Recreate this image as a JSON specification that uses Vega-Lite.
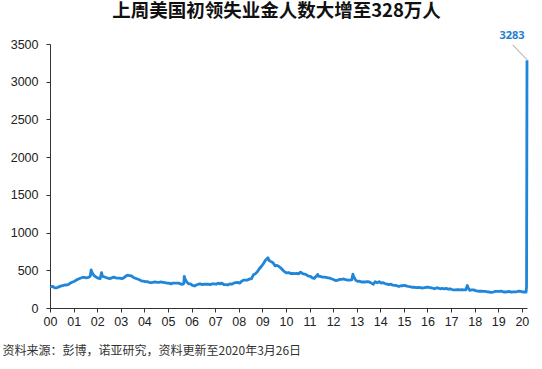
{
  "$schema": "https://vega.github.io/schema/vega-lite/v6.json",
  "width": 477,
  "height": 264,
  "autosize": {"type": "none"},
  "padding": {"left": 50, "top": 44, "right": 15, "bottom": 61},
  "background": "white",
  "config": {"view": {"stroke": null}},
  "title": {
    "text": "上周美国初领失业金人数大增至328万人",
    "font": "Noto Sans CJK SC",
    "fontSize": 18.5,
    "fontWeight": "bold",
    "color": "#111111",
    "anchor": "middle",
    "frame": "group",
    "dx": -12,
    "offset": 10
  },
  "datasets": {
    "claims": [
      {"d":"2000-01-08","v":290},{"d":"2000-01-22","v":282},{"d":"2000-02-15","v":285},{"d":"2000-03-15","v":268},{"d":"2000-04-15","v":268},{"d":"2000-05-15","v":280},{"d":"2000-06-15","v":290},{"d":"2000-07-15","v":298},{"d":"2000-08-15","v":305},{"d":"2000-09-15","v":305},{"d":"2000-10-15","v":312},{"d":"2000-11-15","v":332},{"d":"2000-12-15","v":345},
      {"d":"2001-01-15","v":355},{"d":"2001-02-15","v":372},{"d":"2001-03-15","v":385},{"d":"2001-04-15","v":395},{"d":"2001-05-15","v":405},{"d":"2001-06-15","v":405},{"d":"2001-07-15","v":400},{"d":"2001-08-15","v":405},{"d":"2001-09-15","v":420},{"d":"2001-09-29","v":505},{"d":"2001-10-13","v":470},{"d":"2001-10-27","v":450},{"d":"2001-11-15","v":430},{"d":"2001-12-15","v":410},
      {"d":"2002-01-15","v":395},{"d":"2002-02-15","v":388},{"d":"2002-03-09","v":470},{"d":"2002-03-23","v":420},{"d":"2002-04-15","v":415},{"d":"2002-05-15","v":405},{"d":"2002-06-15","v":395},{"d":"2002-07-15","v":390},{"d":"2002-08-15","v":400},{"d":"2002-09-15","v":410},{"d":"2002-10-15","v":400},{"d":"2002-11-15","v":395},{"d":"2002-12-15","v":395},
      {"d":"2003-01-15","v":390},{"d":"2003-02-15","v":400},{"d":"2003-03-15","v":420},{"d":"2003-04-15","v":435},{"d":"2003-05-15","v":430},{"d":"2003-06-15","v":425},{"d":"2003-07-15","v":405},{"d":"2003-08-15","v":395},{"d":"2003-09-15","v":385},{"d":"2003-10-15","v":375},{"d":"2003-11-15","v":360},{"d":"2003-12-15","v":355},
      {"d":"2004-01-15","v":350},{"d":"2004-02-15","v":350},{"d":"2004-03-15","v":340},{"d":"2004-04-15","v":335},{"d":"2004-05-15","v":340},{"d":"2004-06-15","v":345},{"d":"2004-07-15","v":340},{"d":"2004-08-15","v":340},{"d":"2004-09-15","v":345},{"d":"2004-10-15","v":340},{"d":"2004-11-15","v":335},{"d":"2004-12-15","v":330},
      {"d":"2005-01-15","v":330},{"d":"2005-02-15","v":320},{"d":"2005-03-15","v":330},{"d":"2005-04-15","v":330},{"d":"2005-05-15","v":330},{"d":"2005-06-15","v":330},{"d":"2005-07-15","v":318},{"d":"2005-08-15","v":315},{"d":"2005-09-03","v":325},{"d":"2005-09-10","v":420},{"d":"2005-09-24","v":380},{"d":"2005-10-15","v":350},{"d":"2005-11-15","v":320},{"d":"2005-12-15","v":320},
      {"d":"2006-01-15","v":300},{"d":"2006-02-15","v":292},{"d":"2006-03-15","v":305},{"d":"2006-04-15","v":315},{"d":"2006-05-15","v":320},{"d":"2006-06-15","v":310},{"d":"2006-07-15","v":315},{"d":"2006-08-15","v":315},{"d":"2006-09-15","v":315},{"d":"2006-10-15","v":310},{"d":"2006-11-15","v":320},{"d":"2006-12-15","v":320},
      {"d":"2007-01-15","v":315},{"d":"2007-02-15","v":330},{"d":"2007-03-15","v":320},{"d":"2007-04-15","v":330},{"d":"2007-05-15","v":310},{"d":"2007-06-15","v":310},{"d":"2007-07-15","v":305},{"d":"2007-08-15","v":320},{"d":"2007-09-15","v":315},{"d":"2007-10-15","v":330},{"d":"2007-11-15","v":335},{"d":"2007-12-15","v":340},
      {"d":"2008-01-15","v":330},{"d":"2008-02-15","v":355},{"d":"2008-03-15","v":370},{"d":"2008-04-15","v":370},{"d":"2008-05-15","v":370},{"d":"2008-06-15","v":385},{"d":"2008-07-15","v":385},{"d":"2008-08-15","v":440},{"d":"2008-09-15","v":455},{"d":"2008-10-15","v":480},{"d":"2008-11-15","v":520},{"d":"2008-12-15","v":550},
      {"d":"2009-01-15","v":585},{"d":"2009-02-15","v":630},{"d":"2009-03-28","v":665},{"d":"2009-04-15","v":630},{"d":"2009-05-15","v":615},{"d":"2009-06-15","v":600},{"d":"2009-07-15","v":560},{"d":"2009-08-15","v":565},{"d":"2009-09-15","v":550},{"d":"2009-10-15","v":530},{"d":"2009-11-15","v":500},{"d":"2009-12-15","v":478},
      {"d":"2010-01-15","v":465},{"d":"2010-02-15","v":470},{"d":"2010-03-15","v":455},{"d":"2010-04-15","v":458},{"d":"2010-05-15","v":455},{"d":"2010-06-15","v":460},{"d":"2010-07-15","v":452},{"d":"2010-08-15","v":475},{"d":"2010-09-15","v":455},{"d":"2010-10-15","v":450},{"d":"2010-11-15","v":440},{"d":"2010-12-15","v":422},
      {"d":"2011-01-15","v":420},{"d":"2011-02-15","v":400},{"d":"2011-03-15","v":392},{"d":"2011-04-15","v":420},{"d":"2011-05-07","v":445},{"d":"2011-05-21","v":420},{"d":"2011-06-15","v":420},{"d":"2011-07-15","v":410},{"d":"2011-08-15","v":410},{"d":"2011-09-15","v":405},{"d":"2011-10-15","v":400},{"d":"2011-11-15","v":395},{"d":"2011-12-15","v":385},
      {"d":"2012-01-15","v":375},{"d":"2012-02-15","v":362},{"d":"2012-03-15","v":370},{"d":"2012-04-15","v":380},{"d":"2012-05-15","v":380},{"d":"2012-06-15","v":385},{"d":"2012-07-15","v":375},{"d":"2012-08-15","v":370},{"d":"2012-09-15","v":370},{"d":"2012-10-15","v":372},{"d":"2012-11-03","v":450},{"d":"2012-11-17","v":410},{"d":"2012-12-15","v":370},
      {"d":"2013-01-15","v":352},{"d":"2013-02-15","v":355},{"d":"2013-03-15","v":345},{"d":"2013-04-15","v":345},{"d":"2013-05-15","v":345},{"d":"2013-06-15","v":350},{"d":"2013-07-15","v":345},{"d":"2013-08-15","v":330},{"d":"2013-09-15","v":315},{"d":"2013-10-15","v":350},{"d":"2013-11-15","v":335},{"d":"2013-12-15","v":350},
      {"d":"2014-01-15","v":330},{"d":"2014-02-15","v":335},{"d":"2014-03-15","v":325},{"d":"2014-04-15","v":315},{"d":"2014-05-15","v":310},{"d":"2014-06-15","v":315},{"d":"2014-07-15","v":302},{"d":"2014-08-15","v":300},{"d":"2014-09-15","v":295},{"d":"2014-10-15","v":285},{"d":"2014-11-15","v":295},{"d":"2014-12-15","v":295},
      {"d":"2015-01-15","v":300},{"d":"2015-02-15","v":290},{"d":"2015-03-15","v":285},{"d":"2015-04-15","v":280},{"d":"2015-05-15","v":275},{"d":"2015-06-15","v":275},{"d":"2015-07-15","v":270},{"d":"2015-08-15","v":275},{"d":"2015-09-15","v":270},{"d":"2015-10-15","v":265},{"d":"2015-11-15","v":270},{"d":"2015-12-15","v":275},
      {"d":"2016-01-15","v":275},{"d":"2016-02-15","v":270},{"d":"2016-03-15","v":265},{"d":"2016-04-15","v":255},{"d":"2016-05-15","v":265},{"d":"2016-06-15","v":265},{"d":"2016-07-15","v":255},{"d":"2016-08-15","v":260},{"d":"2016-09-15","v":255},{"d":"2016-10-15","v":260},{"d":"2016-11-15","v":250},{"d":"2016-12-15","v":255},
      {"d":"2017-01-15","v":245},{"d":"2017-02-15","v":240},{"d":"2017-03-15","v":240},{"d":"2017-04-15","v":245},{"d":"2017-05-15","v":240},{"d":"2017-06-15","v":242},{"d":"2017-07-15","v":240},{"d":"2017-08-15","v":240},{"d":"2017-09-09","v":298},{"d":"2017-09-23","v":265},{"d":"2017-10-15","v":235},{"d":"2017-11-15","v":240},{"d":"2017-12-15","v":240},
      {"d":"2018-01-15","v":230},{"d":"2018-02-15","v":225},{"d":"2018-03-15","v":222},{"d":"2018-04-15","v":225},{"d":"2018-05-15","v":220},{"d":"2018-06-15","v":220},{"d":"2018-07-15","v":215},{"d":"2018-08-15","v":212},{"d":"2018-09-15","v":207},{"d":"2018-10-15","v":212},{"d":"2018-11-15","v":220},{"d":"2018-12-15","v":220},
      {"d":"2019-01-15","v":220},{"d":"2019-02-15","v":225},{"d":"2019-03-15","v":215},{"d":"2019-04-15","v":212},{"d":"2019-05-15","v":215},{"d":"2019-06-15","v":220},{"d":"2019-07-15","v":210},{"d":"2019-08-15","v":215},{"d":"2019-09-15","v":215},{"d":"2019-10-15","v":215},{"d":"2019-11-15","v":225},{"d":"2019-12-15","v":220},
      {"d":"2020-01-15","v":212},{"d":"2020-02-15","v":212},{"d":"2020-03-07","v":212},{"d":"2020-03-14","v":282},{"d":"2020-03-21","v":3283}
    ],
    "leader": [
      {"d":"2019-08-13","v":3487,"d2":"2020-03-21","v2":3292}
    ],
    "peaklabel": [
      {"d":"2020-03-21","v":3283,"label":"3283"}
    ]
  },
  "encoding": {
    "x": {
      "field": "d", "type": "temporal",
      "scale": {"type": "utc", "domain": [{"year": 2000, "month": 1, "date": 1, "utc": true}, {"year": 2020, "month": 3, "date": 21, "utc": true}], "nice": false},
      "axis": {
        "format": "%y",
        "tickCount": {"interval": "year", "step": 1},
        "grid": false,
        "domainColor": "#333333",
        "tickColor": "#333333",
        "tickSize": 4,
        "labelFont": "Liberation Sans",
        "labelFontSize": 12.5,
        "labelColor": "#222222",
        "labelPadding": 3,
        "labelFlush": false,
        "labelOverlap": false,
        "title": "资料来源：彭博，诺亚研究，资料更新至2020年3月26日",
        "titleFont": "Noto Sans CJK SC",
        "titleFontSize": 12,
        "titleFontWeight": "normal",
        "titleColor": "#333333",
        "titleAlign": "left",
        "titleBaseline": "middle",
        "titleX": -48,
        "titleY": 42
      }
    },
    "y": {
      "field": "v", "type": "quantitative",
      "scale": {"domain": [0, 3500], "nice": false},
      "axis": {
        "values": [0, 500, 1000, 1500, 2000, 2500, 3000, 3500],
        "format": "d",
        "labelOverlap": false,
        "labelFlush": false,
        "grid": false,
        "domainColor": "#333333",
        "tickColor": "#333333",
        "tickSize": 4,
        "labelFont": "Liberation Sans",
        "labelFontSize": 12.5,
        "labelColor": "#222222",
        "labelPadding": 8,
        "title": null
      }
    }
  },
  "layer": [
    {
      "data": {"name": "claims"},
      "mark": {"type": "line", "color": "#1f86d9", "strokeWidth": 2.8, "strokeJoin": "round"}
    },
    {
      "data": {"name": "leader"},
      "mark": {"type": "rule", "color": "#9a9a9a", "strokeWidth": 1},
      "encoding": {
        "x2": {"field": "d2"},
        "y2": {"field": "v2"}
      }
    },
    {
      "data": {"name": "peaklabel"},
      "mark": {"type": "text", "font": "Noto Sans", "fontSize": 11, "fontWeight": "bold", "color": "#1f7fd0", "dx": -15, "dy": -24, "baseline": "middle", "clip": false},
      "encoding": {
        "text": {"field": "label"}
      }
    }
  ]
}
